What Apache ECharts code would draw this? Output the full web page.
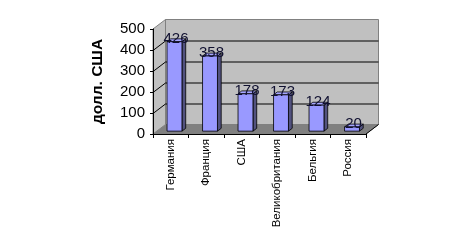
<!DOCTYPE html>
<html><head><meta charset="utf-8">
<script src="https://cdn.jsdelivr.net/npm/echarts@6/dist/echarts.min.js"></script>
<style>html,body{margin:0;padding:0;background:#fff}#c{width:459px;height:240px}</style>
</head><body><div id="c"></div>
<script>
var categories = ['Германия', 'Франция', 'США', 'Великобритания', 'Бельгия', 'Россия'];
var values = [426, 358, 178, 173, 124, 20];
var yTicks = [0, 100, 200, 300, 400, 500];
var yTitle = 'долл. США';

var FONT = 'Arial, "Liberation Sans", sans-serif';
var DX = 12.5, DY = -9.5;      // depth offset of back wall
var F0 = 0.3, F1 = 0.6;        // bar depth span (fraction)
var BAR_W = 0.42;

var chart = echarts.init(document.getElementById('c'), null, {renderer: 'canvas'});

function wallsRender(params, api) {
  var cs = params.coordSys;
  var x0 = cs.x, x1 = cs.x + cs.width;
  var yb = api.coord([0, yTicks[0]])[1];
  var yt = api.coord([0, yTicks[yTicks.length - 1]])[1];
  var ch = [];
  ch.push({type: 'polygon', shape: {points: [[x0, yb], [x1, yb], [x1 + DX, yb + DY], [x0 + DX, yb + DY]]},
    style: {fill: '#808080', stroke: '#808080', lineWidth: 1}});
  ch.push({type: 'polygon', shape: {points: [[x0, yb], [x0, yt], [x0 + DX, yt + DY], [x0 + DX, yb + DY]]},
    style: {fill: '#c0c0c0', stroke: '#808080', lineWidth: 1}});
  ch.push({type: 'polygon', shape: {points: [[x0 + DX, yt + DY], [x1 + DX, yt + DY], [x1 + DX, yb + DY], [x0 + DX, yb + DY]]},
    style: {fill: '#c0c0c0', stroke: '#808080', lineWidth: 1}});
  for (var i = 1; i < yTicks.length - 1; i++) {
    var y = Math.round(api.coord([0, yTicks[i]])[1]) + 0.5;
    ch.push({type: 'polyline', shape: {points: [[x0, y], [x0 + DX, y + DY], [x1 + DX, y + DY]]},
      style: {stroke: '#000', lineWidth: 1, fill: null}});
  }
  ch.push({type: 'line', shape: {x1: x1, y1: yb, x2: x1 + DX, y2: yb + DY}, style: {stroke: '#000', lineWidth: 1}});
  return {type: 'group', children: ch};
}

function barRender(params, api) {
  var i = api.value(0), v = api.value(1);
  var base = api.coord([i, 0]);
  var top = api.coord([i, v]);
  var w = api.size([1, 0])[0] * BAR_W;
  var ox = DX * F0, oy = DY * F0;
  var ddx = DX * (F1 - F0), ddy = DY * (F1 - F0);
  var l = base[0] - w / 2 + ox, r = base[0] + w / 2 + ox;
  var yb = base[1] + oy, yt = top[1] + oy;
  var st = {stroke: '#000', lineWidth: 0.8, lineJoin: 'round'};
  return {type: 'group', children: [
    {type: 'polygon', shape: {points: [[r, yb], [r, yt], [r + ddx, yt + ddy], [r + ddx, yb + ddy]]},
      style: Object.assign({fill: '#52527f'}, st)},
    {type: 'polygon', shape: {points: [[l, yt], [r, yt], [r + ddx, yt + ddy], [l + ddx, yt + ddy]]},
      style: Object.assign({fill: '#a6a6ff'}, st)},
    {type: 'rect', shape: {x: l, y: yt, width: r - l, height: yb - yt},
      style: Object.assign({fill: '#9999ff'}, st)},
    {type: 'text', x: (l + r) / 2 + 1.5, y: yt - 3,
      style: {text: String(v), font: '15px ' + FONT, fill: '#101030', align: 'center', verticalAlign: 'middle'}}
  ]};
}

chart.setOption({
  animation: false,
  grid: {left: 153, right: 93, top: 29, bottom: 106},
  xAxis: {
    type: 'category', data: categories,
    axisLine: {lineStyle: {color: '#000', width: 1}},
    axisTick: {show: true, length: 4, lineStyle: {color: '#000'}},
    axisLabel: {rotate: 90, fontSize: 11.5, fontFamily: FONT, color: '#000', margin: 5, interval: 0},
    z: 10
  },
  yAxis: {
    type: 'value', min: 0, max: 500, interval: 100,
    name: yTitle, nameLocation: 'middle', nameRotate: 90, nameGap: 47,
    nameTextStyle: {fontSize: 15.5, fontWeight: 'bold', fontFamily: FONT, color: '#000'},
    axisLine: {show: true, lineStyle: {color: '#000', width: 1}},
    axisTick: {show: true, length: 3, lineStyle: {color: '#000'}},
    axisLabel: {fontSize: 15, fontFamily: FONT, color: '#000', margin: 8},
    splitLine: {show: false},
    z: 10
  },
  series: [
    {type: 'custom', renderItem: wallsRender, data: [[0, 0]], z: 1, silent: true, clip: false},
    {type: 'custom', renderItem: barRender, data: values.map(function (v, i) { return [i, v]; }), z: 5, clip: false}
  ]
});
</script></body></html>
